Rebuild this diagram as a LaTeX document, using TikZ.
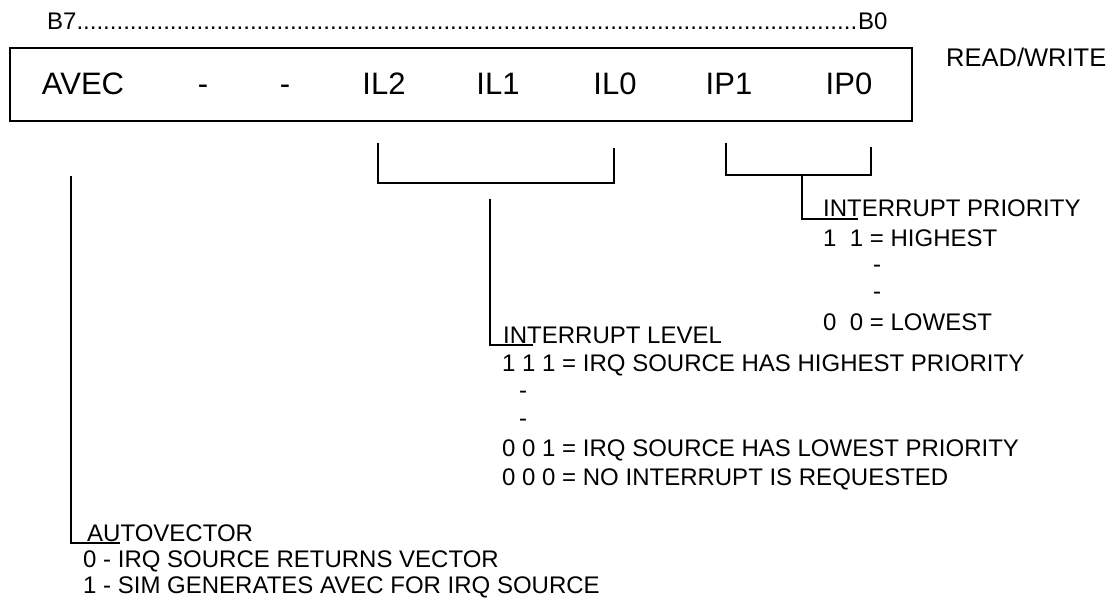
\documentclass[tikz,border=0pt]{standalone}
\usepackage{fontspec}
\setmainfont{Liberation Sans}
\begin{document}
\begin{tikzpicture}[x=1pt,y=-1pt,
  lbl/.style={font=\fontsize{31}{37}\selectfont, anchor=base, inner sep=0pt},
  txt/.style={font=\fontsize{24}{29}\selectfont, anchor=base west, inner sep=0pt},
  regbox/.style={draw, line width=2.4pt, inner sep=0pt, anchor=north west},
  brk/.style={line width=2pt, line cap=butt, line join=miter}]
\useasboundingbox (0,0) rectangle (1115,599);
% bit order header
\node[txt] (bits) at (47,30) {B7\hbox to 781pt{\leaders\hbox{.}\hfill}B0};
% register box
\node[regbox, minimum width=902pt, minimum height=73pt] (reg) at (9,47) {};
\node[txt, font=\fontsize{25.5}{30}\selectfont] (rw) at (946,67) {READ/WRITE};
% field labels
\node[lbl] (avec) at (83,95) {AVEC};
\node[lbl] (b6) at (203,95) {-};
\node[lbl] (b5) at (285,95) {-};
\node[lbl] (il2) at (384,95) {IL2};
\node[lbl] (il1) at (498,95) {IL1};
\node[lbl] (il0) at (615,95) {IL0};
\node[lbl] (ip1) at (729,95) {IP1};
\node[lbl] (ip0) at (849,95) {IP0};
% interrupt level bracket
\coordinate (il2t) at (378,143);
\coordinate (il2b) at (378,183);
\coordinate (il0t) at (614,148);
\coordinate (il0b) at (614,183);
\draw[brk] (il2t) -- (il2b) -- (il0b) -- (il0t);
\coordinate (ilst) at (490,199);
\coordinate (ilsb) at (490,345);
\coordinate (ilu) at (533,345);
\draw[brk] (ilst) -- (ilsb) -- (ilu);
\node[txt] (iltitle) at (503,343) {INTERRUPT LEVEL};
\node[txt] (il111) at (502,371.5) {1 1 1 = IRQ SOURCE HAS HIGHEST PRIORITY};
\node[txt] (ild1) at (519,398.5) {-};
\node[txt] (ild2) at (519,426.5) {-};
\node[txt] (il001) at (502,456.5) {0 0 1 = IRQ SOURCE HAS LOWEST PRIORITY};
\node[txt] (il000) at (502,485.5) {0 0 0 = NO INTERRUPT IS REQUESTED};
% interrupt priority bracket
\coordinate (ip1t) at (726,143);
\coordinate (ip1b) at (726,175);
\coordinate (ip0t) at (871,147);
\coordinate (ip0b) at (871,175);
\draw[brk] (ip1t) -- (ip1b) -- (ip0b) -- (ip0t);
\coordinate (ipst) at (802,175);
\coordinate (ipsb) at (802,219);
\coordinate (ipu) at (858,219);
\draw[brk] (ipst) -- (ipsb) -- (ipu);
\node[txt] (iptitle) at (823,216) {INTERRUPT PRIORITY};
\node[txt] (ip11) at (823,246.5) {1~ 1 = HIGHEST};
\node[txt] (ipd1) at (873,272.5) {-};
\node[txt] (ipd2) at (873,299.5) {-};
\node[txt] (ip00) at (823,330.5) {0~ 0 = LOWEST};
% autovector
\coordinate (avt) at (71,176);
\coordinate (avb) at (71,543);
\coordinate (avu) at (120,543);
\draw[brk] (avt) -- (avb) -- (avu);
\node[txt] (avtitle) at (87,541.5) {AUTOVECTOR};
\node[txt] (av0) at (83,567.5) {0 - IRQ SOURCE RETURNS VECTOR};
\node[txt] (av1) at (83,593.5) {1 - SIM GENERATES AVEC FOR IRQ SOURCE};
\end{tikzpicture}
\end{document}
